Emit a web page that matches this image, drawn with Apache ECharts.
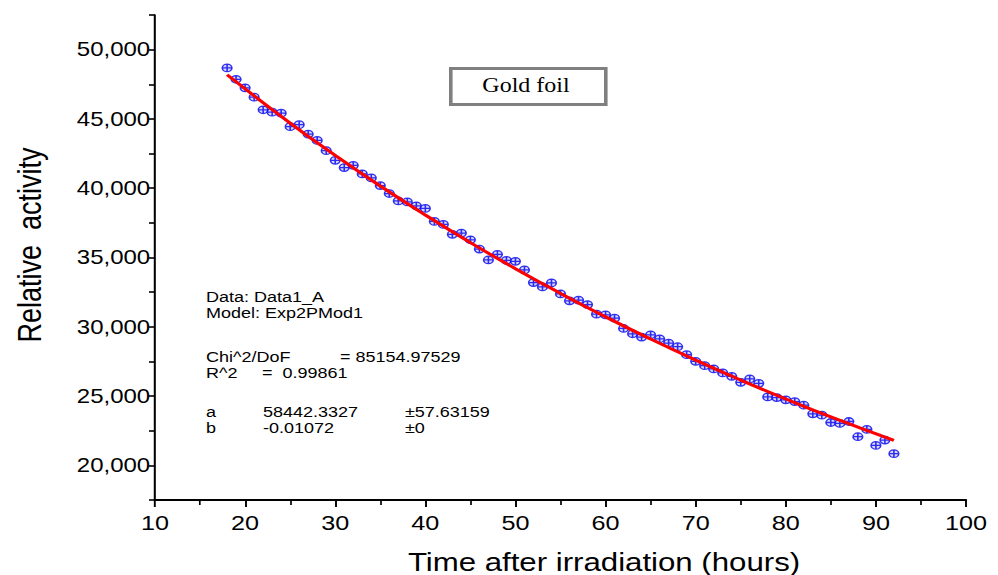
<!DOCTYPE html>
<html>
<head>
<meta charset="utf-8">
<script src="https://cdn.jsdelivr.net/npm/echarts@6/dist/echarts.min.js"></script>
<style>
html,body{margin:0;padding:0;background:#fff;overflow:hidden;}
#wrap{width:998px;height:575px;overflow:hidden;position:relative;}
#chart{height:575px;position:absolute;left:0;top:0;transform-origin:0 0;}
</style>
</head>
<body>
<div id="wrap"><div id="chart"></div></div>
<script>
// ---- data ----
const hours = [18,19,20,21,22,23,24,25,26,27,28,29,30,31,32,33,34,35,36,37,38,39,40,41,42,43,44,45,46,47,48,49,50,51,52,53,54,55,56,57,58,59,60,61,62,63,64,65,66,67,68,69,70,71,72,73,74,75,76,77,78,79,80,81,82,83,84,85,86,87,88,89,90,91,92];
const activity = [48683,47863,47244,46568,45661,45489,45417,44438,44582,43906,43452,42712,42014,41488,41654,41028,40741,40193,39618,39086,39014,38726,38539,37604,37388,36669,36762,36280,35611,34820,35230,34798,34726,34100,33187,32877,33165,32374,31870,31918,31604,30913,30863,30625,29877,29496,29259,29424,29136,28827,28561,27985,27504,27194,26957,26669,26424,25993,26237,25921,24942,24890,24726,24604,24338,23719,23619,23093,23021,23165,22065,22590,21439,21822,20842];
const fitHours = [18,25,30,35,40,45,50,55,60,65,70,75,80,85,92];
const fitActivity = [48186,44703,42369,40158,38062,36075,34193,32409,30717,29114,27595,26155,24790,23496,21798];
const xTicks = [10,20,30,40,50,60,70,80,90,100];
const yTickLabels = [20000,25000,30000,35000,40000,45000,50000];
const statsLines = [
  ['Data: Data1_A'],
  ['Model: Exp2PMod1'],
  ['Chi^2/DoF', '= 85154.97529'],
  ['R^2', '=  0.99861'],
  ['a', '58442.3327', '\u00b157.63159'],
  ['b', '-0.01072', '\u00b10']
];
const boxLabel = 'Gold foil';
const xName = 'Time after irradiation (hours)';
const yName = 'Relative  activity';

// ---- layout (horizontal stretch of the original picture) ----
const S = 1.2;
const W = 998 / S;
const el = document.getElementById('chart');
el.style.width = W + 'px';
el.style.transform = 'scaleX(' + S + ')';
const chart = echarts.init(el, null, {renderer: 'svg', width: W, height: 575});
const px = v => v / S;
const sans = 'Liberation Sans, Arial, sans-serif';

const scatterData = hours.map((h, i) => [h, activity[i]]);
const fitData = fitHours.map((h, i) => [h, fitActivity[i]]);

const statsGraphic = [];
const statsY = [299, 315, 359, 375, 414, 430];
const statsX = [[206], [206], [206, 340], [206, 262], [206, 263, 405], [206, 263, 405]];
statsLines.forEach((parts, i) => {
  parts.forEach((t, j) => {
    statsGraphic.push({
      type: 'text', left: px(statsX[i][j]), top: statsY[i] - 9,
      style: {text: t, font: '15px ' + sans, fill: '#000'}
    });
  });
});

chart.setOption({
  animation: false,
  backgroundColor: '#fff',
  grid: {left: px(155), right: px(32), top: 15, bottom: 75, containLabel: false},
  xAxis: {
    type: 'value', min: xTicks[0], max: xTicks[xTicks.length - 1], interval: 10,
    axisLine: {show: true, onZero: false, lineStyle: {color: '#000', width: 2}},
    axisTick: {show: true, length: 7, lineStyle: {color: '#000', width: 1.6}},
    minorTick: {show: true, splitNumber: 2, length: 5, lineStyle: {color: '#000', width: 1.4}},
    splitLine: {show: false},
    axisLabel: {color: '#000', fontFamily: sans, fontSize: 21, margin: 12}
  },
  yAxis: {
    type: 'value', min: 17500, max: 52500, interval: 2500,
    axisLine: {show: true, onZero: false, lineStyle: {color: '#000', width: 1.7}},
    axisTick: {show: true, length: 5, lineStyle: {color: '#000', width: 1.6}},
    splitLine: {show: false},
    axisLabel: {
      color: '#000', fontFamily: sans, fontSize: 20, margin: 4,
      formatter: v => yTickLabels.indexOf(v) >= 0 ? v.toLocaleString('en-US') : ''
    }
  },
  series: [
    {
      type: 'scatter', data: scatterData, z: 2,
      symbol: 'path://M0,5A5,5,0,1,1,10,5A5,5,0,1,1,0,5ZM5,0L5,10M0,5L10,5',
      symbolSize: [8, 7.5],
      itemStyle: {color: '#d0d0ff', borderColor: '#0000ee', borderWidth: 1.3}
    },
    {
      type: 'line', data: fitData, smooth: true, showSymbol: false, symbol: 'none', z: 3,
      lineStyle: {color: '#ff0000', width: 3}
    }
  ],
  graphic: [
    {
      type: 'rect', left: px(449), top: 67,
      shape: {width: px(155), height: 36},
      style: {fill: '#fff', stroke: '#808080', lineWidth: 3}
    },
    {
      type: 'text', x: px(526), y: 85,
      style: {text: boxLabel, font: '20px Liberation Serif, Times New Roman, serif', fill: '#000', align: 'center', verticalAlign: 'middle'}
    },
    {
      type: 'text', x: px(30), y: 245, rotation: Math.PI / 2,
      style: {text: yName, font: '27px ' + sans, fill: '#000', align: 'center', verticalAlign: 'middle'}
    },
    {
      type: 'text', x: px(604), y: 562,
      style: {text: xName, font: '26px ' + sans, fill: '#000', align: 'center', verticalAlign: 'middle'}
    }
  ].concat(statsGraphic)
});
</script>
</body>
</html>
